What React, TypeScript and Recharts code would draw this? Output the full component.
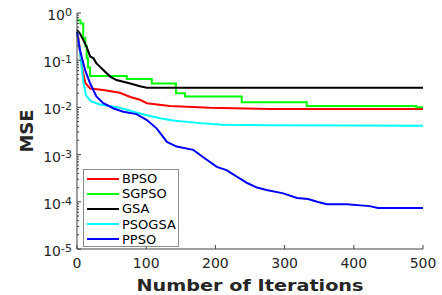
import { LineChart, Line, XAxis, YAxis, Legend } from "recharts";

// convergence curves (iteration, best MSE)
const bpsoIter = [0, 2, 7, 12, 19, 38, 62, 77, 91, 101, 134, 192, 279, 500];
const bpsoMse = [0.38, 0.3, 0.072, 0.033, 0.025, 0.0234, 0.0204, 0.0166, 0.0145, 0.0123, 0.0107, 0.0098, 0.0093, 0.0093];

const sgpsoIter = [0, 5, 9, 12, 14, 16, 19, 72, 108, 143, 156, 238, 332, 490, 500];
const sgpsoMse = [0.7, 0.6, 0.3, 0.2, 0.11, 0.07, 0.046, 0.04, 0.032, 0.02, 0.017, 0.0128, 0.0107, 0.0101, 0.0101];

const gsaIter = [0, 4, 9, 14, 19, 24, 28, 33, 38, 48, 57, 77, 91, 101, 500];
const gsaMse = [0.44, 0.37, 0.27, 0.19, 0.12, 0.11, 0.086, 0.073, 0.062, 0.045, 0.038, 0.032, 0.028, 0.0262, 0.0262];

const psogsaIter = [0, 4, 9, 13, 20, 33, 62, 86, 101, 120, 139, 173, 211, 280, 500];
const psogsaMse = [0.4, 0.17, 0.035, 0.018, 0.0135, 0.0115, 0.0098, 0.0078, 0.0068, 0.0059, 0.0053, 0.0047, 0.0043, 0.0042, 0.0041];

const ppsoIter = [0, 4, 8, 12, 19, 28, 38, 53, 67, 86, 101, 115, 130, 144, 168, 182, 202, 216, 231, 246, 260, 274, 298, 318, 334, 347, 361, 390, 423, 435, 500];
const ppsoMse = [0.4, 0.17, 0.1, 0.06, 0.032, 0.017, 0.0123, 0.0095, 0.0081, 0.0072, 0.0054, 0.0036, 0.00186, 0.00148, 0.00126, 0.00089, 0.00055, 0.00047, 0.00034, 0.00025, 0.0002, 0.000178, 0.000151, 0.00012, 0.000115, 0.0001, 0.000089, 0.000089, 0.000081, 0.000074, 0.000074];

const xTicks = [0, 100, 200, 300, 400, 500];
const yMajorTicks = [1e-5, 1e-4, 1e-3, 1e-2, 1e-1, 1];
const yTickExponents = ["-5", "-4", "-3", "-2", "-1", "0"];
const yMinorSteps = [2, 3, 4, 5, 6, 7, 8, 9];

const yTicks = [
  ...yMajorTicks,
  ...yMajorTicks.slice(0, -1).flatMap((d) => yMinorSteps.map((m) => m * d)),
].sort((a, b) => a - b);

const toPoints = (iter: number[], mse: number[]) =>
  iter.map((it, i) => ({ iter: it, mse: mse[i] }));

const series = [
  { name: "BPSO", color: "#ff0000", data: toPoints(bpsoIter, bpsoMse), type: "linear" },
  { name: "SGPSO", color: "#00ff00", data: toPoints(sgpsoIter, sgpsoMse), type: "stepAfter" },
  { name: "GSA", color: "#000000", data: toPoints(gsaIter, gsaMse), type: "linear" },
  { name: "PSOGSA", color: "#00ffff", data: toPoints(psogsaIter, psogsaMse), type: "linear" },
  { name: "PPSO", color: "#0000ff", data: toPoints(ppsoIter, ppsoMse), type: "linear" },
];

const FONT = "DejaVu Sans";
const AXIS = "#404040";
const TEXT = "#262626";

const BottomTick = (props: any) => {
  const { x, y, payload } = props;
  return (
    <g>
      <line x1={x} y1={y} x2={x} y2={y - 4} stroke={AXIS} />
      <text x={x} y={y + 19} textAnchor="middle" fontSize={14} fontFamily={FONT} fill={TEXT}>
        {payload.value}
      </text>
    </g>
  );
};

const TopTick = (props: any) => {
  const { x, y } = props;
  return <line x1={x} y1={y} x2={x} y2={y + 4} stroke={AXIS} />;
};

const LeftTick = (props: any) => {
  const { x, y, payload } = props;
  const idx = yMajorTicks.indexOf(payload.value);
  if (idx < 0) return <line x1={x} y1={y} x2={x + 2} y2={y} stroke={AXIS} />;
  return (
    <g>
      <line x1={x} y1={y} x2={x + 4} y2={y} stroke={AXIS} />
      <text x={x - 5} y={y + 7} textAnchor="end" fontSize={14} fontFamily={FONT} fill={TEXT}>
        10
        <tspan dy={-4} fontSize={11}>
          {yTickExponents[idx]}
        </tspan>
      </text>
    </g>
  );
};

const RightTick = (props: any) => {
  const { x, y, payload } = props;
  const len = yMajorTicks.indexOf(payload.value) < 0 ? 2 : 4;
  return <line x1={x} y1={y} x2={x - len} y2={y} stroke={AXIS} />;
};

const XTitle = (props: any) => {
  const { viewBox } = props;
  return (
    <text
      x={viewBox.x + viewBox.width / 2}
      y={viewBox.y + 42}
      textAnchor="middle"
      fontSize={16}
      fontWeight="bold"
      fontFamily={FONT}
      fill={TEXT}
      textLength={227}
      lengthAdjust="spacingAndGlyphs"
    >
      Number of Iterations
    </text>
  );
};

const YTitle = () => (
  <text
    x={26}
    y={131}
    transform="rotate(-90, 26, 131)"
    textAnchor="middle"
    dominantBaseline="central"
    fontSize={18}
    fontWeight="bold"
    fontFamily={FONT}
    fill={TEXT}
  >
    MSE
  </text>
);

// legend keeps the plotting order, not the sorted payload order
const LegendBox = () => (
  <div
    style={{
      width: 96,
      height: 78,
      boxSizing: "border-box",
      border: "1px solid #8c8c8c",
      background: "#fff",
      padding: "1px 0",
      fontFamily: FONT,
      fontSize: 13,
      color: "#000",
    }}
  >
    {series.map((s) => (
      <div key={s.name} style={{ display: "flex", alignItems: "center", height: 15.2 }}>
        <span style={{ width: 32, height: 2, background: s.color, marginLeft: 3, marginRight: 3 }} />
        <span style={{ lineHeight: "15px" }}>{s.name}</span>
      </div>
    ))}
  </div>
);

export default function App() {
  return (
    <div style={{ position: "absolute", left: 0, top: 0, width: 442, height: 295, background: "#fff" }}>
      <LineChart width={442} height={295} margin={{ top: 13, right: 19, bottom: 0, left: 0 }}>
        <XAxis
          dataKey="iter"
          type="number"
          domain={[0, 500]}
          ticks={xTicks}
          interval={0}
          height={46}
          tickSize={0}
          tickMargin={0}
          tickLine={false}
          axisLine={{ stroke: AXIS }}
          tick={<BottomTick />}
          label={{ content: <XTitle /> }}
        />
        <XAxis
          xAxisId="top"
          orientation="top"
          type="number"
          domain={[0, 500]}
          ticks={xTicks}
          interval={0}
          height={0}
          tickSize={0}
          tickMargin={0}
          tickLine={false}
          axisLine={{ stroke: AXIS }}
          tick={<TopTick />}
        />
        <YAxis
          type="number"
          scale="log"
          domain={[1e-5, 1]}
          allowDataOverflow
          ticks={yTicks}
          interval={0}
          width={77}
          tickSize={0}
          tickMargin={0}
          tickLine={false}
          axisLine={{ stroke: AXIS }}
          tick={<LeftTick />}
          label={{ content: <YTitle /> }}
        />
        <YAxis
          yAxisId="right"
          orientation="right"
          type="number"
          scale="log"
          domain={[1e-5, 1]}
          allowDataOverflow
          ticks={yTicks}
          interval={0}
          width={0}
          tickSize={0}
          tickMargin={0}
          tickLine={false}
          axisLine={{ stroke: AXIS }}
          tick={<RightTick />}
        />
        {series.map((s) => (
          <Line
            key={s.name}
            data={s.data}
            dataKey="mse"
            name={s.name}
            type={s.type as any}
            stroke={s.color}
            strokeWidth={2}
            dot={false}
            isAnimationActive={false}
          />
        ))}
        <Legend
          layout="vertical"
          align="center"
          verticalAlign="middle"
          wrapperStyle={{ left: 83, top: 169, width: 96 }}
          content={<LegendBox />}
        />
      </LineChart>
    </div>
  );
}
